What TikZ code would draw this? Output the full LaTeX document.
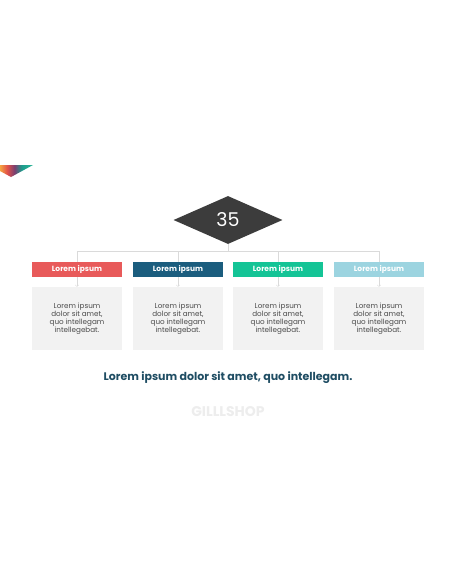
\documentclass[tikz,border=0pt]{standalone}
\usepackage{fontspec}
\setmainfont{Poppins}
\usetikzlibrary{shapes.geometric}

\definecolor{rot}{HTML}{E85A5A}
\definecolor{blau}{HTML}{1B5D7E}
\definecolor{gruen}{HTML}{14C496}
\definecolor{hellblau}{HTML}{9CD4E0}
\definecolor{kasten}{HTML}{F2F2F2}
\definecolor{linie}{HTML}{DADADA}
\definecolor{dunkel}{HTML}{3C3C3C}
\definecolor{titel}{HTML}{1F4D63}
\definecolor{textgrau}{HTML}{4A4A4A}
\definecolor{logo}{HTML}{EDEDED}
\definecolor{eorange}{HTML}{F5A340}
\definecolor{erot}{HTML}{E0504A}
\definecolor{elila}{HTML}{7B3F70}
\definecolor{etuerkis}{HTML}{1C9C8C}
\definecolor{egruen}{HTML}{2BB596}

\pgfdeclarehorizontalshading{dreieck}{100bp}{color(0bp)=(eorange); color(25bp)=(eorange);
  color(36bp)=(erot); color(47bp)=(elila); color(58bp)=(etuerkis);
  color(75bp)=(egruen); color(100bp)=(egruen)}

\begin{document}
\begin{tikzpicture}[x=1pt,y=-1pt]
  \useasboundingbox[fill=white] (0,0) rectangle (456,586);

  % Ecke.
  \shade[shading=dreieck] (0,165) -- (33,165) -- (11,177) -- (0,171) -- cycle;

  % Raute.
  \node[diamond, fill=dunkel, aspect=2.27, minimum width=109pt, minimum height=48pt,
        inner sep=0pt, text=white, font=\fontsize{19}{19}\selectfont] (raute) at (228,220) {35};

  % Kopfzeilen.
  \tikzstyle{kopf}=[minimum width=90pt, minimum height=15pt, inner sep=0pt, text=white,
                    font=\fontsize{7.5}{8}\bfseries\selectfont]
  \tikzstyle{feld}=[fill=kasten, minimum width=90pt, minimum height=63pt, inner sep=0pt]
  \tikzstyle{fliess}=[text=textgrau, align=center, font=\fontsize{7.2}{8}\selectfont]

  \node[kopf, fill=rot] (k1) at (77,269.5) {Lorem ipsum};
  \node[kopf, fill=blau] (k2) at (178,269.5) {Lorem ipsum};
  \node[kopf, fill=gruen] (k3) at (278,269.5) {Lorem ipsum};
  \node[kopf, fill=hellblau] (k4) at (379,269.5) {Lorem ipsum};

  % Felder.
  \node[feld] (f1) at (77,318.5) {};
  \node[feld] (f2) at (178,318.5) {};
  \node[feld] (f3) at (278,318.5) {};
  \node[feld] (f4) at (379,318.5) {};

  \node[fliess] (t1) at (f1) {Lorem ipsum\\dolor sit amet,\\quo intellegam\\intellegebat.};
  \node[fliess] (t2) at (f2) {Lorem ipsum\\dolor sit amet,\\quo intellegam\\intellegebat.};
  \node[fliess] (t3) at (f3) {Lorem ipsum\\dolor sit amet,\\quo intellegam\\intellegebat.};
  \node[fliess] (t4) at (f4) {Lorem ipsum\\dolor sit amet,\\quo intellegam\\intellegebat.};

  % Verbindungen.
  \coordinate (m) at (228,251);
  \coordinate (a1) at (77,251);
  \coordinate (a2) at (178,251);
  \coordinate (a3) at (278,251);
  \coordinate (a4) at (379,251);

  \draw[linie, line width=0.6pt] (raute.south) -- (m);
  \draw[linie, line width=0.6pt] (a1) -- (a4);
  \draw[linie, line width=0.6pt] (a1) -- (k1.north);
  \draw[linie, line width=0.6pt] (a2) -- (k2.north);
  \draw[linie, line width=0.6pt] (a3) -- (k3.north);
  \draw[linie, line width=0.6pt] (a4) -- (k4.north);

  \draw[linie, line width=0.5pt, ->] (k1.south) -- (f1.north);
  \draw[linie, line width=0.5pt, ->] (k2.south) -- (f2.north);
  \draw[linie, line width=0.5pt, ->] (k3.south) -- (f3.north);
  \draw[linie, line width=0.5pt, ->] (k4.south) -- (f4.north);

  % Unterschrift.
  \node[text=titel, font=\fontsize{11}{12}\bfseries\selectfont] (unten) at (228,378)
    {Lorem ipsum dolor sit amet, quo intellegam.};
  \node[text=logo, font=\fontsize{14}{14}\bfseries\selectfont] (marke) at (228,412) {GILLLSHOP};
\end{tikzpicture}
\end{document}
